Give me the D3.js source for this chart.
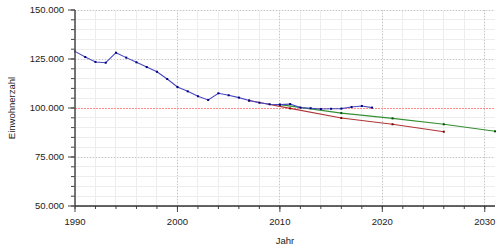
<!DOCTYPE html>
<html><head><meta charset="utf-8">
<script src="https://cdn.jsdelivr.net/npm/d3@7"></script>
<style>body{margin:0;background:#fff}svg{display:block}text{font-family:"Liberation Sans",Arial,sans-serif;fill:#222}.grid line{shape-rendering:crispEdges}</style>
</head><body><svg id="c" width="500" height="250"></svg>
<script>
const years = [1990,1991,1992,1993,1994,1995,1996,1997,1998,1999,2000,2001,2002,2003,2004,2005,2006,2007,2008,2009,2010,2011,2012,2013,2014,2015,2016,2017,2018,2019];
const population = [128900,126000,123500,123100,128200,125700,123300,120900,118500,114800,110700,108500,106000,104100,107500,106500,105300,103800,102700,101900,101700,102000,100200,99900,99500,99600,99700,100500,101000,100200];
const projRedYears = [2007,2011,2016,2021,2026];
const projRed = [103800,99800,94900,91700,87900];
const projGreenYears = [2010,2016,2021,2026,2031];
const projGreen = [101700,97400,94700,91700,88100];
const yTicks = [50000,75000,100000,125000,150000];
const xTicks = [1990,2000,2010,2020,2030];
const refValue = 100000;

const svg = d3.select("#c");
const L=75,R=495,T=10,B=206;
const x = d3.scaleLinear().domain([1990,2031]).range([L,R]);
const y = d3.scaleLinear().domain([50000,150000]).range([B,T]);
const fmt = v => d3.format(",")(v).replace(/,/g,".");

const minorY = d3.range(50000,150001,5000);
const minorX = d3.range(1990,2031,2);
const g = svg.append("g").attr("class","grid");
g.selectAll(".mgy").data(minorY.filter(d=>d!==refValue)).join("line").attr("x1",L).attr("x2",R).attr("y1",d=>y(d)).attr("y2",d=>y(d)).attr("stroke","#ededed").attr("stroke-width",1);
g.selectAll(".mgx").data(minorX).join("line").attr("x1",d=>x(d)).attr("x2",d=>x(d)).attr("y1",T).attr("y2",B).attr("stroke","#ededed").attr("stroke-width",1);
g.selectAll(".Mgy").data(yTicks.filter(d=>d!==refValue)).join("line").attr("x1",L).attr("x2",R).attr("y1",d=>y(d)).attr("y2",d=>y(d)).attr("stroke","#c4c4c4").attr("stroke-width",1).attr("stroke-dasharray","1,2");
g.selectAll(".Mgx").data(xTicks).join("line").attr("x1",d=>x(d)).attr("x2",d=>x(d)).attr("y1",T).attr("y2",B).attr("stroke","#c4c4c4").attr("stroke-width",1).attr("stroke-dasharray","1,2");
g.append("line").attr("x1",L).attr("x2",R).attr("y1",y(refValue)+0.5).attr("y2",y(refValue)+0.5).attr("stroke","#ff8c8c").attr("stroke-width",1).attr("stroke-dasharray","2,1");

function series(xs, vs, lineColor, ptColor){
  const pts = xs.map((d,i)=>[d,vs[i]]);
  svg.append("path").datum(pts).attr("fill","none").attr("stroke",lineColor).attr("stroke-width",1.1)
    .attr("d", d3.line().x(d=>x(d[0])).y(d=>y(d[1])));
  svg.selectAll(null).data(pts).join("rect").attr("x",d=>x(d[0])-1).attr("y",d=>y(d[1])-1).attr("width",2).attr("height",2).attr("fill",ptColor);
}
series(projRedYears, projRed, "#b03535", "#800000");
series(projGreenYears, projGreen, "#348f34", "#005000");
series(years, population, "#4848c0", "#000080");

const yAxis = svg.append("g");
yAxis.selectAll(null).data(minorY).join("line").attr("x1",L-4).attr("x2",L).attr("y1",d=>y(d)).attr("y2",d=>y(d)).attr("stroke","#444");
yAxis.selectAll(null).data(yTicks).join("line").attr("x1",L-7).attr("x2",L).attr("y1",d=>y(d)).attr("y2",d=>y(d)).attr("stroke","#444");
yAxis.selectAll(null).data(yTicks).join("text").attr("x",L-11).attr("y",d=>y(d)).attr("dy","0.35em").attr("text-anchor","end").attr("font-size","9.5px").text(fmt);
const xAxis = svg.append("g");
xAxis.selectAll(null).data(minorX).join("line").attr("x1",d=>x(d)).attr("x2",d=>x(d)).attr("y1",B).attr("y2",B+3).attr("stroke","#444");
xAxis.selectAll(null).data(xTicks).join("line").attr("x1",d=>x(d)).attr("x2",d=>x(d)).attr("y1",B).attr("y2",B+6).attr("stroke","#444");
xAxis.selectAll(null).data(xTicks).join("text").attr("x",d=>x(d)).attr("y",224.5).attr("text-anchor","middle").attr("font-size","9.5px").text(d=>d);
svg.append("line").attr("x1",L).attr("x2",L).attr("y1",T).attr("y2",B+1).attr("stroke","#555").attr("stroke-width",1.6);
svg.append("line").attr("x1",L).attr("x2",R).attr("y1",B).attr("y2",B).attr("stroke","#333").attr("stroke-width",1.3);

svg.append("text").attr("transform",`translate(15,108) rotate(-90)`).attr("text-anchor","middle").attr("font-size","9.5px").text("Einwohnerzahl");
svg.append("text").attr("x",(L+R)/2).attr("y",244).attr("text-anchor","middle").attr("font-size","9.5px").text("Jahr");
</script></body></html>
